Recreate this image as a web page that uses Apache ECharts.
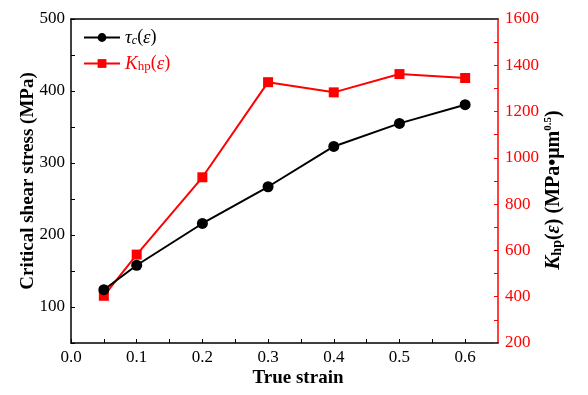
<!DOCTYPE html>
<html><head><meta charset="utf-8">
<script src="https://cdn.jsdelivr.net/npm/echarts@6/dist/echarts.min.js"></script>
<style>html,body{margin:0;padding:0;background:#fff}#c{width:588px;height:395px}</style>
</head><body><div id="c"></div>
<script>
const strain = [0.05, 0.1, 0.2, 0.3, 0.4, 0.5, 0.6];
const tauC = [124, 158, 216, 267, 323, 355, 381];
const khp = [404, 582, 916, 1327, 1283, 1362, 1345];
const xTickLabels = ['0.0','0.1','0.2','0.3','0.4','0.5','0.6'];
const leftTickLabels = ['100','200','300','400','500'];
const rightTickLabels = ['200','400','600','800','1000','1200','1400','1600'];

const FONT = '"Liberation Serif", "Times New Roman", serif';
const chart = echarts.init(document.getElementById('c'), null, {renderer:'canvas'});
const pair = (xs, ys) => xs.map((x,i)=>[x, ys[i]]);
const fmt1 = v => { const s = v.toFixed(1); return xTickLabels.includes(s) && Math.abs(v*10 - Math.round(v*10))<1e-6 ? s : ''; };

const richBase = {
  i: {fontFamily: FONT, fontStyle:'italic', fontSize:19},
  n: {fontFamily: FONT, fontSize:18},
  sub: {fontFamily: FONT, fontStyle:'italic', fontSize:12, verticalAlign:'bottom', lineHeight:4},
  subn: {fontFamily: FONT, fontSize:13, verticalAlign:'bottom', lineHeight:4}
};
function richColor(c){ const r={}; for(const k in richBase){ r[k]=Object.assign({},richBase[k],{color:c}); } return r; }

chart.setOption({
  animation:false,
  backgroundColor:'#fff',
  grid:{left:71, right:90, top:19, bottom:52, containLabel:false},
  legend:{
    left:78, top:23, orient:'vertical', itemWidth:36, itemHeight:11, itemGap:7,
    data:[
      {name:'tau', textStyle:{rich:richColor('#000')}},
      {name:'khp', textStyle:{rich:richColor('#ff0000')}}
    ],
    formatter: n => n==='tau' ? '{i|τ}{sub|c}{n|(}{i|ε}{n|)}' : '{i|K}{subn|hp}{n|(}{i|ε}{n|)}',
    textStyle:{fontFamily:FONT, fontSize:18}
  },
  xAxis:[{
    type:'value', min:0, max:0.65, interval:0.05,
    name:'True strain', nameLocation:'middle', nameGap:26, nameMoveOverlap:false,
    nameTextStyle:{fontFamily:FONT, fontWeight:'bold', fontSize:19, color:'#000', padding:[0,0,0,27]},
    axisLine:{onZero:false, lineStyle:{color:'#000', width:1.5}},
    axisTick:{inside:true, length:4, lineStyle:{color:'#000', width:1}},
    axisLabel:{formatter:fmt1, fontFamily:FONT, fontSize:17, color:'#000', margin:6, showMaxLabel:false},
    splitLine:{show:false}
  },{
    type:'value', min:0, max:0.65, position:'top',
    axisLine:{onZero:false, lineStyle:{color:'#000', width:1.5}},
    axisTick:{show:false}, axisLabel:{show:false}, splitLine:{show:false}
  }],
  yAxis:[{
    type:'value', min:50, max:500, interval:50, position:'left',
    name:'Critical shear stress (MPa)', nameLocation:'middle', nameGap:33, nameRotate:90, nameMoveOverlap:false,
    nameTextStyle:{fontFamily:FONT, fontWeight:'bold', fontSize:19, color:'#000'},
    axisLine:{show:true, onZero:false, lineStyle:{color:'#000', width:1.5}},
    axisTick:{inside:true, length:4, lineStyle:{color:'#000', width:1}},
    axisLabel:{formatter:v => leftTickLabels.includes(String(v)) ? String(v) : '', fontFamily:FONT, fontSize:17, color:'#000', margin:6},
    splitLine:{show:false}
  },{
    type:'value', min:200, max:1600, interval:100, position:'right',
    name:'{bi|K}{bsub|hp}{b|(}{bie|ε}{b|) (MPa•μm}{bsup|0.5}{b|)}', nameLocation:'middle', nameGap:45, nameRotate:90, nameMoveOverlap:false,
    nameTextStyle:{fontFamily:FONT, fontWeight:'bold', fontSize:20, color:'#000', padding:[0,18,0,0],
      rich:{
        b:{fontFamily:FONT, fontWeight:'bold', fontSize:20, color:'#000'},
        bi:{fontFamily:FONT, fontWeight:'bold', fontStyle:'italic', fontSize:21, color:'#000'},
        bie:{fontFamily:FONT, fontStyle:'italic', fontSize:20, color:'#000'},
        bsub:{fontFamily:FONT, fontWeight:'bold', fontSize:14, color:'#000', verticalAlign:'bottom', lineHeight:4},
        bsup:{fontFamily:FONT, fontWeight:'bold', fontSize:11, color:'#000', verticalAlign:'top', lineHeight:6}
      }},
    axisLine:{show:true, onZero:false, lineStyle:{color:'#ff0000', width:1.5}},
    axisTick:{inside:true, length:4, lineStyle:{color:'#ff0000', width:1}},
    axisLabel:{formatter:v => rightTickLabels.includes(String(v)) ? String(v) : '', fontFamily:FONT, fontSize:17, color:'#ff0000', margin:7},
    splitLine:{show:false}
  }],
  series:[{
    name:'tau', type:'line', xAxisIndex:0, yAxisIndex:0, data:pair(strain, tauC),
    symbol:'circle', symbolSize:11, itemStyle:{color:'#000'}, lineStyle:{color:'#000', width:2}, z:3
  },{
    name:'khp', type:'line', xAxisIndex:0, yAxisIndex:1, data:pair(strain, khp),
    symbol:'rect', symbolSize:10, itemStyle:{color:'#ff0000'}, lineStyle:{color:'#ff0000', width:2}, z:2
  }]
});
</script></body></html>
